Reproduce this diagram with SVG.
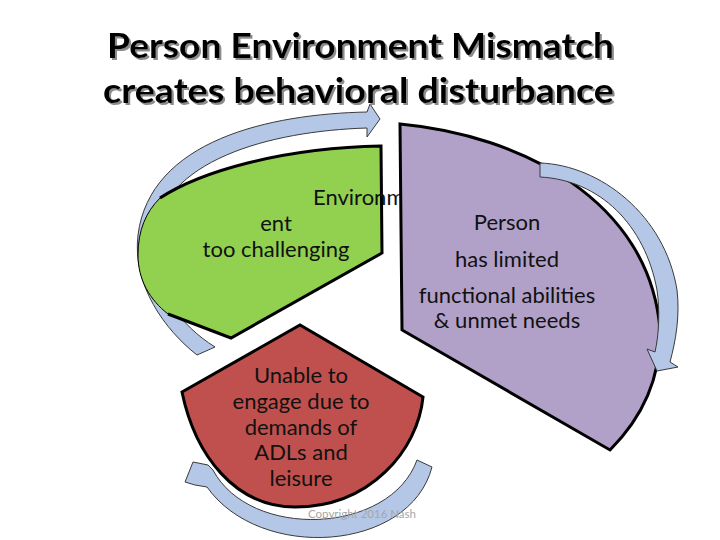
<svg xmlns="http://www.w3.org/2000/svg" width="720" height="540" viewBox="0 0 720 540">
<defs>
<filter id="shadow" x="-5%" y="-20%" width="110%" height="150%">
<feDropShadow dx="2" dy="2" stdDeviation="0.6" flood-color="#8c8c8c" flood-opacity="1"/>
</filter>
</defs>
<style>
.arrow{fill:#B4C7E7;stroke:#3a3a3a;stroke-width:1;stroke-linejoin:miter}
.edge{fill:none;stroke:#000;stroke-width:3;stroke-linejoin:miter}
.lbl{font-family:Lato,"Liberation Sans",sans-serif;font-size:22px;fill:#111}
.title{font-family:Lato,"Liberation Sans",sans-serif;font-size:35px;font-weight:bold;fill:#000;text-anchor:middle}
</style>
<rect width="720" height="540" fill="#fff"/>
<g id="connectors-back">
<path id="arrow-top" class="arrow" d="M367,112 C270,114 150,140 138,235 C132,285 165,330 197,355 L215,347 C180,325 153,290 153,240 C160,160 270,131 367,128 L367,137 L380,119 L370,104 Z"/>
</g>
<g id="node-environment">
<path d="M381,146 L382,253 L231,338 L168,314 C150,300 138,280 138,255 C138,230 146,212 160,198 C200,172 280,148 381,146 Z" fill="#92D050" stroke="#000" stroke-width="1"/>
<path class="edge" d="M160,198 C200,172 280,148 381,146 L382,253 L231,338 L168,314"/>
<text class="lbl" x="313" y="205">Environm</text>
<text class="lbl" x="276" y="231" text-anchor="middle">ent</text>
<text class="lbl" x="276" y="257" text-anchor="middle">too challenging</text>
</g>
<g id="node-person">
<path d="M400,124 C520,135 650,200 660,330 C661,380 640,420 610,450 L402,330 Z" fill="#B1A0C7" stroke="#000" stroke-width="3" stroke-linejoin="miter"/>
<text class="lbl" x="507" y="230" text-anchor="middle">Person</text>
<text class="lbl" x="507" y="267" text-anchor="middle">has limited</text>
<text class="lbl" x="507" y="303" text-anchor="middle">functional abilities</text>
<text class="lbl" x="507" y="328" text-anchor="middle">&amp; unmet needs</text>
</g>
<g id="node-unable">
<path d="M182,392 L300,325 L423,397 C418,450 370,507 295,507 C235,507 195,455 182,392 Z" fill="#C0504D" stroke="#000" stroke-width="3" stroke-linejoin="miter"/>
<text class="lbl" x="301" y="383" text-anchor="middle">Unable to</text>
<text class="lbl" x="301" y="409" text-anchor="middle">engage due to</text>
<text class="lbl" x="301" y="435" text-anchor="middle">demands of</text>
<text class="lbl" x="301" y="460" text-anchor="middle">ADLs and</text>
<text class="lbl" x="301" y="486" text-anchor="middle">leisure</text>
</g>
<g id="connectors">
<path id="arrow-right" class="arrow" d="M540,163 C600,165 665,215 677,290 C680,315 676,340 670,362 L678,367 L657,371 L647,349 L655,352 C659,335 660,310 657,290 C645,225 600,180 540,177 Z"/>
<path id="arrow-bottom" class="arrow" d="M432,467 C410,552 260,562 207,487 L195,485 L185,482 L193,462 L208,465 L213,470 C250,540 390,535 417,460 Z"/>
</g>
<text x="308" y="518" font-family="Lato,'Liberation Sans',sans-serif" font-size="11.5" fill="#a6a6a6">Copyright 2016 Nash</text>
<g id="title" filter="url(#shadow)">
<text class="title" x="360.5" y="58" textLength="507" lengthAdjust="spacingAndGlyphs">Person Environment Mismatch</text>
<text class="title" x="358.5" y="103" textLength="511" lengthAdjust="spacingAndGlyphs">creates behavioral disturbance</text>
</g>
</svg>
